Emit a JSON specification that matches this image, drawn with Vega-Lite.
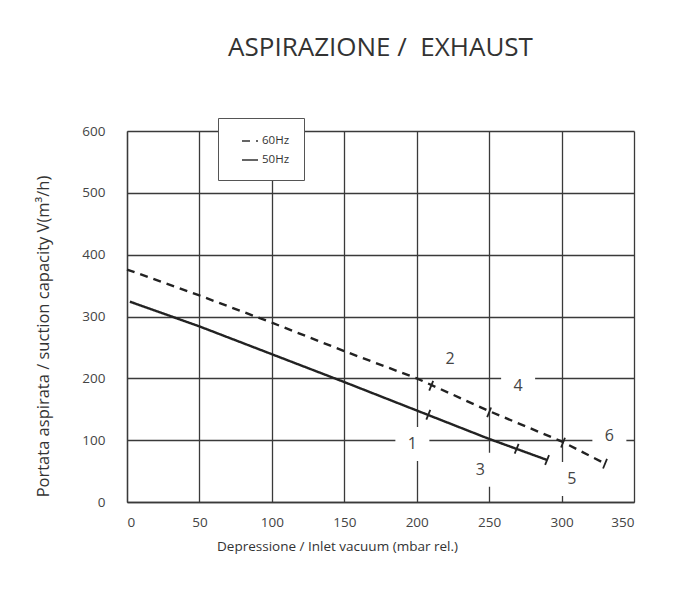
{
  "$schema": "https://vega.github.io/schema/vega-lite/v6.json",
  "width": 507,
  "height": 371,
  "autosize": {"type": "none"},
  "padding": {"left": 127, "top": 131, "right": 53, "bottom": 95},
  "background": "white",
  "title": {
    "text": "ASPIRAZIONE / \u00a0EXHAUST",
    "anchor": "middle",
    "frame": "group",
    "offset": 57,
    "fontSize": 26,
    "font": "Open Sans",
    "fontWeight": "normal",
    "color": "#333333"
  },
  "config": {
    "font": "Open Sans",
    "view": {"stroke": null},
    "axis": {
      "gridColor": "#3a3a3a",
      "gridOpacity": 1,
      "gridWidth": 1.3,
      "domainColor": "#3a3a3a",
      "domainWidth": 1.3,
      "tickSize": 0,
      "labelFont": "Open Sans",
      "labelFontSize": 13.5,
      "labelColor": "#444444",
      "titleFont": "Open Sans",
      "titleFontSize": 13.5,
      "titleFontWeight": "normal",
      "titleColor": "#333333"
    },
    "legend": {
      "orient": "none",
      "legendX": 91,
      "legendY": -13,
      "padding": 14,
      "fillColor": "white",
      "strokeColor": "#555555",
      "strokeWidth": 1,
      "labelFont": "Open Sans",
      "labelFontSize": 11.5,
      "labelColor": "#333333",
      "symbolType": "stroke",
      "symbolSize": 256,
      "symbolOffset": 9,
      "symbolStrokeWidth": 1.5,
      "symbolStrokeColor": "#333333",
      "rowPadding": 4,
      "labelOffset": 3
    }
  },
  "datasets": {
    "curves": [
      {"series": "50Hz", "vacuum": 2, "capacity": 324},
      {"series": "50Hz", "vacuum": 50, "capacity": 284},
      {"series": "50Hz", "vacuum": 100, "capacity": 239},
      {"series": "50Hz", "vacuum": 150, "capacity": 194},
      {"series": "50Hz", "vacuum": 200, "capacity": 148},
      {"series": "50Hz", "vacuum": 250, "capacity": 102},
      {"series": "50Hz", "vacuum": 290, "capacity": 68},
      {"series": "60Hz", "vacuum": 0, "capacity": 376},
      {"series": "60Hz", "vacuum": 50, "capacity": 334},
      {"series": "60Hz", "vacuum": 100, "capacity": 290},
      {"series": "60Hz", "vacuum": 150, "capacity": 244},
      {"series": "60Hz", "vacuum": 200, "capacity": 200},
      {"series": "60Hz", "vacuum": 250, "capacity": 147},
      {"series": "60Hz", "vacuum": 300, "capacity": 98},
      {"series": "60Hz", "vacuum": 330, "capacity": 62}
    ],
    "marks": [
      {"series": "50Hz", "vacuum": 208, "capacity": 141},
      {"series": "50Hz", "vacuum": 269, "capacity": 86},
      {"series": "50Hz", "vacuum": 290, "capacity": 68},
      {"series": "60Hz", "vacuum": 210, "capacity": 188},
      {"series": "60Hz", "vacuum": 250, "capacity": 145},
      {"series": "60Hz", "vacuum": 301, "capacity": 96},
      {"series": "60Hz", "vacuum": 330, "capacity": 62}
    ],
    "labels": [
      {"label": "1", "vacuum": 197, "capacity": 94},
      {"label": "2", "vacuum": 223, "capacity": 232},
      {"label": "3", "vacuum": 244, "capacity": 52},
      {"label": "4", "vacuum": 270, "capacity": 187},
      {"label": "5", "vacuum": 307, "capacity": 37},
      {"label": "6", "vacuum": 333, "capacity": 106}
    ]
  },
  "encoding": {
    "x": {
      "field": "vacuum",
      "type": "quantitative",
      "scale": {"domain": [0, 350], "nice": false},
      "axis": {
        "values": [0, 50, 100, 150, 200, 250, 300, 350],
        "title": "Depressione / Inlet vacuum (mbar rel.)",
        "labelPadding": 13,
        "titleX": 210,
        "titleY": 37,
        "titleAlign": "center",
        "titleBaseline": "top"
      }
    },
    "y": {
      "field": "capacity",
      "type": "quantitative",
      "scale": {"domain": [0, 600], "nice": false},
      "axis": {
        "values": [0, 100, 200, 300, 400, 500, 600],
        "title": "Portata aspirata / suction capacity V(m³/h)",
        "titleFontSize": 16.5,
        "labelPadding": 22,
        "titleX": -76,
        "titleY": 205,
        "titleAngle": -90,
        "titleAlign": "center",
        "titleBaseline": "bottom"
      }
    }
  },
  "layer": [
    {
      "data": {"name": "labels"},
      "mark": {"type": "point", "shape": "square", "size": 1156, "filled": true, "color": "white", "opacity": 1, "strokeWidth": 0},
      "encoding": {}
    },
    {
      "data": {"name": "curves"},
      "mark": {"type": "line", "color": "#222222", "strokeWidth": 2.4},
      "encoding": {
        "strokeDash": {
          "field": "series",
          "type": "nominal",
          "scale": {"domain": ["60Hz", "50Hz"], "range": [[8, 6], [1, 0]]},
          "legend": {"title": null}
        }
      }
    },
    {
      "data": {"name": "marks"},
      "mark": {"type": "point", "shape": "M0,-1L0,1", "size": 110, "angle": 22, "stroke": "#222222", "strokeWidth": 1.8, "filled": false, "opacity": 1},
      "encoding": {}
    },
    {
      "data": {"name": "labels"},
      "mark": {"type": "text", "fontSize": 16, "font": "Open Sans", "color": "#444444", "baseline": "middle", "align": "center"},
      "encoding": {"text": {"field": "label"}}
    }
  ]
}
